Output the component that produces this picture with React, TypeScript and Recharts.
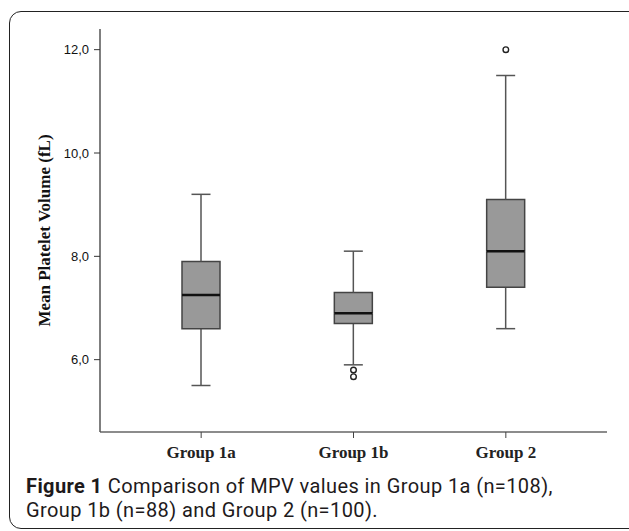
import { Bar, ComposedChart, Scatter, XAxis, YAxis } from 'recharts';

const groups = ['Group 1a', 'Group 1b', 'Group 2'];
const whiskerLow = [5.5, 5.9, 6.6];
const q1 = [6.6, 6.7, 7.4];
const median = [7.25, 6.9, 8.1];
const q3 = [7.9, 7.3, 9.1];
const whiskerHigh = [9.2, 8.1, 11.5];
// outliers per group (null = none)
const outlierA = [null, 5.8, 12.0];
const outlierB = [null, 5.67, null];

const yTicks = [6, 8, 10, 12];
const yDomain = [4.6, 12.4];

const data = groups.map((group, i) => ({
  group,
  base: whiskerLow[i],
  lowWhisker: q1[i] - whiskerLow[i],
  lowBox: median[i] - q1[i],
  highBox: q3[i] - median[i],
  highWhisker: whiskerHigh[i] - q3[i],
  outA: outlierA[i],
  outB: outlierB[i],
}));

const boxFill = '#999999';
const boxStroke = '#444444';
const whiskerStroke = '#555555';
const capHalf = 9.5;

const LowWhisker = (p: any) => {
  const cx = p.x + p.width / 2;
  return (
    <g>
      <line x1={cx} x2={cx} y1={p.y} y2={p.y + p.height} stroke={whiskerStroke} strokeWidth={1.5} />
      <line x1={cx - capHalf} x2={cx + capHalf} y1={p.y + p.height} y2={p.y + p.height} stroke={whiskerStroke} strokeWidth={1.5} />
    </g>
  );
};

const HighWhisker = (p: any) => {
  const cx = p.x + p.width / 2;
  return (
    <g>
      <line x1={cx} x2={cx} y1={p.y} y2={p.y + p.height} stroke={whiskerStroke} strokeWidth={1.5} />
      <line x1={cx - capHalf} x2={cx + capHalf} y1={p.y} y2={p.y} stroke={whiskerStroke} strokeWidth={1.5} />
    </g>
  );
};

const LowBox = (p: any) => {
  const { x, y, width, height } = p;
  return (
    <g>
      <rect x={x} y={y} width={width} height={height} fill={boxFill} />
      <path
        d={`M${x},${y} L${x},${y + height} L${x + width},${y + height} L${x + width},${y}`}
        fill="none"
        stroke={boxStroke}
        strokeWidth={1.5}
      />
    </g>
  );
};

const HighBox = (p: any) => {
  const { x, y, width, height } = p;
  return (
    <g>
      <rect x={x} y={y} width={width} height={height} fill={boxFill} />
      <path
        d={`M${x},${y + height} L${x},${y} L${x + width},${y} L${x + width},${y + height}`}
        fill="none"
        stroke={boxStroke}
        strokeWidth={1.5}
      />
      <line x1={x} x2={x + width} y1={y + height} y2={y + height} stroke="#111111" strokeWidth={2.5} />
    </g>
  );
};

const outlierShape = (key: string) => (p: any) => {
  if (p.payload == null || p.payload[key] == null || !Number.isFinite(p.cy)) return <g />;
  return <circle cx={p.cx} cy={p.cy} r={2.8} fill="#ffffff" stroke="#222222" strokeWidth={1.4} />;
};

const fmt = (v: number) => v.toFixed(1).replace('.', ',');

const captionLine = {
  position: 'absolute' as const,
  left: 26,
  whiteSpace: 'nowrap' as const,
  fontFamily: 'Roboto, "Open Sans", sans-serif',
  fontSize: 20,
  letterSpacing: 0.4,
  lineHeight: '20px',
  color: '#1e1a1b',
};

export default function App() {
  return (
    <div style={{ position: 'absolute', left: 0, top: 0, width: 629, height: 531, overflow: 'hidden', background: '#fff' }}>
      <div
        style={{
          position: 'absolute',
          left: 9,
          top: 11,
          width: 640,
          height: 518,
          border: '1.6px solid #222',
          borderRadius: 12,
          boxSizing: 'border-box',
        }}
      />
      <div style={{ position: 'absolute', left: 0, top: 0 }}>
        <ComposedChart width={629} height={531} data={data} margin={{ top: 29, right: 22, bottom: 69, left: 0 }}>
          <XAxis
            dataKey="group"
            padding={{ left: 25, right: 25 }}
            height={30}
            tickSize={6}
            tickMargin={8}
            axisLine={{ stroke: '#666', strokeWidth: 1.5 }}
            tickLine={{ stroke: '#444' }}
            tick={{ fill: '#222', fontSize: 17, fontWeight: 'bold', fontFamily: '"Liberation Serif", "Times New Roman", serif' }}
          />
          <XAxis
            xAxisId="top"
            orientation="top"
            dataKey="group"
            height={0}
            tick={false}
            tickLine={false}
            axisLine={{ stroke: '#777', strokeWidth: 1.5 }}
          />
          <YAxis
            width={100}
            domain={yDomain}
            allowDataOverflow
            ticks={yTicks}
            tickFormatter={fmt}
            tickSize={6}
            tickMargin={5}
            axisLine={{ stroke: '#555', strokeWidth: 1.5 }}
            tickLine={{ stroke: '#333' }}
            tick={{ fill: '#111', fontSize: 13, fontFamily: '"Liberation Sans", Arial, sans-serif' }}
            label={{
              value: 'Mean Platelet Volume (fL)',
              angle: -90,
              position: 'insideLeft',
              offset: 44,
              style: {
                textAnchor: 'middle',
                fill: '#111',
                fontSize: 17,
                fontWeight: 'bold',
                fontFamily: '"Liberation Serif", "Times New Roman", serif',
              },
            }}
          />
          <YAxis
            yAxisId="right"
            orientation="right"
            width={0}
            domain={yDomain}
            allowDataOverflow
            tick={false}
            tickLine={false}
            axisLine={{ stroke: '#777', strokeWidth: 1.8 }}
          />
          <Bar dataKey="base" stackId="box" fill="none" barSize={38} isAnimationActive={false} />
          <Bar dataKey="lowWhisker" stackId="box" barSize={38} shape={LowWhisker} isAnimationActive={false} />
          <Bar dataKey="lowBox" stackId="box" barSize={38} shape={LowBox} isAnimationActive={false} />
          <Bar dataKey="highBox" stackId="box" barSize={38} shape={HighBox} isAnimationActive={false} />
          <Bar dataKey="highWhisker" stackId="box" barSize={38} shape={HighWhisker} isAnimationActive={false} />
          <Scatter dataKey="outA" shape={outlierShape('outA')} isAnimationActive={false} />
          <Scatter dataKey="outB" shape={outlierShape('outB')} isAnimationActive={false} />
        </ComposedChart>
      </div>
      <div style={{ ...captionLine, top: 476 }}>
        <span style={{ fontWeight: 'bold' }}>Figure 1</span> Comparison of MPV values in Group 1a (n=108),
      </div>
      <div style={{ ...captionLine, top: 500 }}>Group 1b (n=88) and Group 2 (n=100).</div>
    </div>
  );
}
